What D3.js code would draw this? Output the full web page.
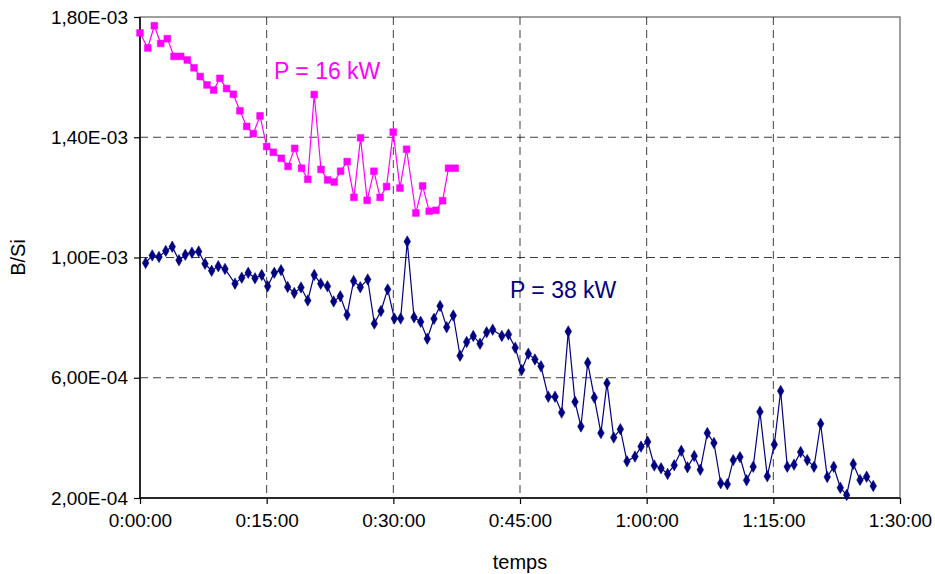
<!DOCTYPE html>
<html>
<head>
<meta charset="utf-8">
<script src="https://cdn.jsdelivr.net/npm/d3@7"></script>
<style>
  html, body { margin: 0; padding: 0; background: #fff; }
  svg { display: block; font-family: Arial, "Liberation Sans", sans-serif; }
</style>
</head>
<body>
<svg id="chart" width="935" height="574"></svg>
<script>
// time in seconds, values in units of 1e-4 (B/Si)
const t16 = [0,55,102,147,194,242,289,336,384,428,476,523,568,615,663,710,758,805,853,900,947,1004,1052,1099,1148,1192,1238,1286,1333,1380,1425,1472,1520,1567,1614,1662,1706,1752,1799,1847,1894,1960,2008,2055,2103,2150,2192,2239];
const v16 = [17.47,16.97,17.71,17.12,17.28,16.69,16.69,16.57,16.31,16.02,15.74,15.57,15.96,15.62,15.43,14.88,14.36,14.12,14.71,13.69,13.50,13.30,13.03,13.63,12.97,12.60,15.42,12.93,12.58,12.51,12.87,13.19,12.00,13.98,11.90,12.87,12.00,12.36,14.17,12.31,13.60,11.48,12.38,11.54,11.57,11.89,12.97,12.97];

const t38 = [40,87,135,183,229,277,322,369,417,462,509,556,604,675,723,769,817,865,907,954,1002,1049,1096,1144,1192,1238,1284,1332,1376,1423,1471,1518,1565,1618,1665,1712,1760,1807,1852,1899,1947,1994,2041,2089,2132,2179,2226,2274,2321,2368,2416,2463,2506,2571,2618,2666,2712,2759,2806,2849,2901,2949,2996,3043,3091,3133,3181,3228,3275,3318,3366,3413,3460,3517,3560,3607,3654,3702,3749,3796,3846,3890,3938,3981,4031,4078,4126,4173,4215,4263,4310,4357,4405,4457,4507,4552,4599,4647,4694,4741,4789,4836,4883,4929,4976,5021,5068,5116,5163,5210];
const v38 = [9.82,10.07,10.02,10.22,10.36,9.91,10.09,10.16,10.20,9.79,9.56,9.71,9.62,9.13,9.33,9.49,9.31,9.42,9.04,9.49,9.58,9.02,8.82,9.00,8.57,9.42,9.13,9.04,8.54,8.71,8.09,9.22,9.01,9.27,7.80,8.22,8.94,7.97,7.97,10.53,8.01,7.86,7.30,7.96,8.39,7.68,8.07,6.73,7.19,7.39,7.13,7.51,7.60,7.39,7.44,7.00,6.26,6.80,6.61,6.38,5.37,5.37,4.84,7.54,5.20,4.38,6.50,5.34,4.16,5.82,4.01,4.29,3.22,3.38,3.71,3.87,3.08,2.99,2.80,3.09,3.57,3.02,3.40,2.94,4.16,3.83,2.49,2.46,3.26,3.36,2.59,3.04,4.87,2.72,3.78,5.56,3.04,3.11,3.53,3.26,3.04,4.47,2.70,3.04,2.34,2.10,3.13,2.60,2.71,2.40];

const xTicks = [0, 900, 1800, 2700, 3600, 4500, 5400];
const xTickLabels = ["0:00:00","0:15:00","0:30:00","0:45:00","1:00:00","1:15:00","1:30:00"];
const yTicks = [2, 6, 10, 14, 18];
const yTickLabels = ["2,00E-04","6,00E-04","1,00E-03","1,40E-03","1,80E-03"];
const seriesLabels = ["P = 16 kW", "P = 38 kW"];

const L = 140, R = 900, T = 17, B = 498;
const svg = d3.select("#chart");
const x = d3.scaleLinear().domain([0, 5400]).range([L, R]);
const y = d3.scaleLinear().domain([2, 18]).range([B, T]);

// plot frame (top/right grey)
svg.append("rect").attr("x", L).attr("y", T).attr("width", R - L).attr("height", B - T)
  .attr("fill", "none").attr("stroke", "#808080").attr("stroke-width", 1.5);

// gridlines
const g = svg.append("g");
g.selectAll(".hg").data(yTicks.slice(1, -1)).join("line")
  .attr("x1", L).attr("x2", R).attr("y1", d => y(d)).attr("y2", d => y(d))
  .attr("stroke", "#000").attr("stroke-width", 1).attr("stroke-dasharray", "8,5").attr("opacity", 0.75);
g.selectAll(".vg").data(xTicks.slice(1, -1)).join("line")
  .attr("y1", T).attr("y2", B).attr("x1", d => x(d)).attr("x2", d => x(d))
  .attr("stroke", "#000").attr("stroke-width", 1).attr("stroke-dasharray", "8,5").attr("opacity", 0.75);

// axes
const xAxis = d3.axisBottom(x).tickValues(xTicks).tickFormat((d, i) => xTickLabels[i]).tickSize(6).tickPadding(10);
const yAxis = d3.axisLeft(y).tickValues(yTicks).tickFormat((d, i) => yTickLabels[i]).tickSize(6).tickPadding(6);
const gx = svg.append("g").attr("transform", `translate(0,${B})`).call(xAxis);
const gy = svg.append("g").attr("transform", `translate(${L},0)`).call(yAxis);
[gx, gy].forEach(a => {
  a.select(".domain").attr("stroke", "#000").attr("stroke-width", 1.5);
  a.selectAll(".tick line").attr("stroke", "#000").attr("stroke-width", 1.2);
  a.selectAll(".tick text").attr("fill", "#000").attr("font-size", 19)
    .attr("font-family", "Arial, 'Liberation Sans', sans-serif");
});
gx.select(".domain").attr("d", `M${L},0H${R}`);
gy.select(".domain").attr("d", `M0,${B}V${T}`);

// axis titles
svg.append("text").attr("x", x(2700)).attr("y", 569).attr("text-anchor", "middle")
  .attr("font-size", 20).text("temps");
svg.append("text").attr("transform", `translate(25,${y(10)}) rotate(-90)`).attr("text-anchor", "middle")
  .attr("font-size", 20).text("B/Si");

// series
function drawSeries(ts, vs, color, marker) {
  const data = ts.map((t, i) => ({ t, v: vs[i] }));
  svg.append("path").datum(data)
    .attr("d", d3.line().x(d => x(d.t)).y(d => y(d.v)))
    .attr("fill", "none").attr("stroke", color).attr("stroke-width", 1.2);
  const sym = d3.symbol().type(marker).size(marker === d3.symbolSquare ? 46 : 38);
  svg.append("g").selectAll("path").data(data).join("path")
    .attr("transform", d => `translate(${x(d.t)},${y(d.v)})${marker === d3.symbolDiamond ? "" : ""}`)
    .attr("d", sym).attr("fill", color).attr("stroke", color).attr("stroke-width", 0.5);
}
drawSeries(t16, v16, "#FF00FF", d3.symbolSquare);
drawSeries(t38, v38, "#000080", d3.symbolDiamond);

// series labels
svg.append("text").attr("x", 274).attr("y", 79).attr("font-size", 23).attr("fill", "#FF00FF").text(seriesLabels[0]);
svg.append("text").attr("x", 510).attr("y", 298).attr("font-size", 23).attr("fill", "#000080").text(seriesLabels[1]);
</script>
</body>
</html>
